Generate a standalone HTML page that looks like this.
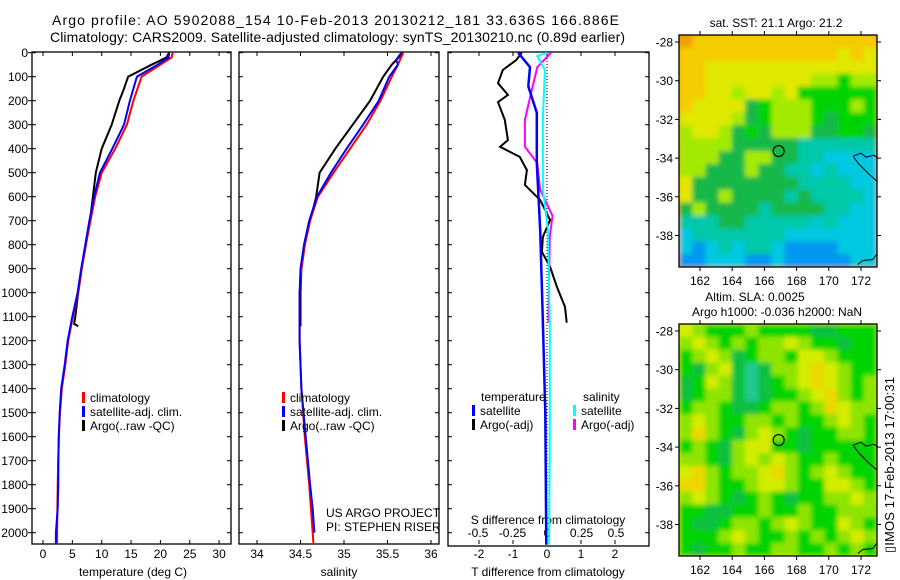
<!DOCTYPE html>
<html><head><meta charset="utf-8"><style>
body{margin:0;background:#fff;}
svg{display:block;font-family:"Liberation Sans",sans-serif;}
</style></head><body>
<svg id="fig" width="900" height="580" viewBox="0 0 900 580" xmlns="http://www.w3.org/2000/svg">
<defs>
<clipPath id="c1"><rect x="32" y="52" width="199" height="492"/></clipPath>
<clipPath id="c2"><rect x="239" y="52" width="200" height="492"/></clipPath>
<clipPath id="c3"><rect x="448" y="52" width="201" height="494"/></clipPath>
<clipPath id="cm1"><rect x="679" y="35" width="198" height="232"/></clipPath>
<clipPath id="cm2"><rect x="679" y="324" width="198" height="232"/></clipPath>
<filter id="bl" filterUnits="userSpaceOnUse" x="660" y="0" width="240" height="580"><feGaussianBlur stdDeviation="2.5"/></filter>
</defs>
<text x="52" y="25" font-size="14" textLength="567">Argo profile: AO 5902088_154 10-Feb-2013 20130212_181 33.636S 166.886E</text>
<text x="50" y="42" font-size="14" textLength="575">Climatology: CARS2009. Satellite-adjusted climatology: synTS_20130210.nc (0.89d earlier)</text>
<g id="axes"></g>
<g id="maps"></g>
<text transform="translate(894,553) rotate(-90)" font-size="13" textLength="176">▯IMOS 17-Feb-2013 17:00:31</text>
</svg>
<script>
// ---- Data ----
const tempDepthRed=[0,20,50,100,200,300,400,500,600,700,800,900,1000,1100,1200,1300,1400,1500,1600,1700,1800,1900,2000,2050];
const tempRed=[22.1,21.9,20,16.8,15.4,14.3,12.3,10,8.9,8.1,7.3,6.6,6,5.1,4.3,3.8,3.2,2.9,2.7,2.6,2.5,2.45,2.4,2.4];
const tempDepthBlue=[0,20,50,100,200,300,400,500,600,700,800,900,1000,1100,1200,1300,1400,1500,1600,1700,1800,1900,2000,2050];
const tempBlue=[21.5,21.4,19.5,16,14.8,13.8,11.8,9.7,8.7,7.9,7.2,6.5,5.9,5.0,4.2,3.7,3.1,2.85,2.7,2.6,2.6,2.5,2.2,2.2];
const tempDepthArgo=[0,20,50,100,150,200,300,400,500,600,700,800,900,1000,1100,1130,1140];
const tempArgo=[21.5,21,18.5,14.5,13.8,13,11.7,10,9,8.5,8,7.3,6.6,6,5.5,5.3,6];
const salDepthRed=[0,50,100,200,300,400,500,600,700,800,900,1000,1200,1400,1600,1800,2000,2050];
const salRed=[35.68,35.62,35.55,35.42,35.26,35.07,34.88,34.7,34.61,34.55,34.51,34.49,34.49,34.51,34.55,34.6,34.64,34.65];
const salDepthBlue=[0,30,50,100,200,300,400,500,600,700,800,900,1000,1200,1400,1600,1800,1900,2000];
const salBlue=[35.66,35.6,35.62,35.52,35.4,35.22,35.03,34.85,34.69,34.6,34.54,34.5,34.49,34.49,34.51,34.56,34.61,34.64,34.66];
const salDepthArgo=[0,50,100,200,300,400,500,600,700,800,900,1000,1100,1140];
const salArgo=[35.68,35.55,35.45,35.3,35.1,34.9,34.72,34.68,34.61,34.55,34.51,34.5,34.5,34.5];
const dTDepthArgo=[0,30,72,127,176,206,280,364,392,434,489,551,614,697,767,830,892,976,1059,1125];
const dTArgo=[-0.74,-0.9,-1.3,-1.44,-1.15,-1.44,-1.24,-1.15,-1.38,-0.8,-0.59,-0.65,-0.2,0.09,-0.12,-0.15,0.09,0.29,0.53,0.58];
const dTDepthSat=[0,60,140,250,460,740,1125,1500,2050];
const dTSat=[-0.85,-0.5,-0.55,-0.3,-0.3,-0.2,-0.12,-0.05,-0.02];
const dSDepthArgo=[0,60,180,280,392,460,570,680,767,1125];
const dSArgo=[0.03,-0.07,-0.12,-0.16,-0.16,-0.07,-0.05,0.04,0.02,0.01];
const dSDepthSat=[0,14,72,270,570,740,1125,1600,2050];
const dSSat=[0,-0.07,-0.015,-0.03,-0.03,0.007,0.02,0.02,0.015];
const depthTicks=[0,100,200,300,400,500,600,700,800,900,1000,1100,1200,1300,1400,1500,1600,1700,1800,1900,2000];
const tempTicks=[0,5,10,15,20,25,30];
const salTicks=[34,34.5,35,35.5,36];
const salTickLabels=["34","34.5","35","35.5","36"];
const dTTicks=[-2,-1,0,1,2];
const dSTicks=[-0.5,-0.25,0,0.25,0.5];
const dSTickLabels=["-0.5","-0.25","0","0.25","0.5"];
const lonTicks=[162,164,166,168,170,172];
const latTicks=[-28,-30,-32,-34,-36,-38];
const sstGrid=[
"OYYYYYYYYYYYYYY","YYYYYYYYYYYYyYy","YYyyyyyyyyyyyyy","YYyyyyyyyyllgll","YYyylyylygggggg",
"YyyyyGglllggglg","yyyylGglllgGggg","lyylGgGlllGGggG","llllGGGGGtttttt","lllGGllGGttcccc",
"llGGGlGGttctccc","yGGGGGGGGttttcc","yGGlGGGGtGttttc","GlGGGGtGGGGttcc","tttGGttttthtccc",
"ctttttttccccccc","cbctcttcbbbbccc","bbcccbbcbbbbbcc"];
const slaGrid=[
"ylggglggggGGggg","lylglgllylggGgg","glylGgllgyylggg","gGlyGtGllyoylgg","GgylGtGglyoylgl",
"GgllGtGgglyolgl","gllgGGgllgloyll","lylggllglgglylg","lolgGlylgGggllg","glgGlyyggGggggg",
"llgGlylylgglggg","yolgllyolglylgg","oolgglyylggyylg","lylgGglgGggllyl","ggGGgglgglggllll",
"gGGgllglylggylg","ggglylgglglglyl","gGgglggllgglglg"];
const argoLon=166.886, argoLat=-33.636;

const NS="http://www.w3.org/2000/svg";
const axes=document.getElementById('axes');
const mapsG=document.getElementById('maps');
function mk(tag,attrs,parent){const e=document.createElementNS(NS,tag);for(const k in attrs)e.setAttribute(k,attrs[k]);(parent||axes).appendChild(e);return e;}
const yD=d=>52.7+d*0.24;
const xT=t=>43+t*5.87;
const xS=s=>257+(s-34)*87;
const xdT=t=>547+t*34;
const xdS=s=>547+s*138;

function frame(x,y,w,h,name){const r=mk('rect',{x:x,y:y,width:w,height:h,fill:'none',stroke:'#000','stroke-width':1.3});

}
frame(32,52,199,492,'temperature-panel');
frame(239,52,200,492,'salinity-panel');
frame(448,52,201,494,'difference-panel');

depthTicks.forEach(d=>{const y=yD(d);
 const t=mk('text',{x:28,y:y+4.5,'font-size':12,'text-anchor':'end'});t.textContent=d;
 
 
 mk('line',{x1:28,x2:32,y1:y,y2:y,stroke:'#000'});
 [[32,231],[239,439],[448,649]].forEach(([a,b])=>{mk('line',{x1:a,x2:a+4,y1:y,y2:y,stroke:'#000'});mk('line',{x1:b-4,x2:b,y1:y,y2:y,stroke:'#000'});});
});
function xticks(vals,labels,fx,name,ly){vals.forEach((v,i)=>{const x=fx(v);
 mk('line',{x1:x,x2:x,y1:544,y2:540,stroke:'#000'});mk('line',{x1:x,x2:x,y1:52,y2:56,stroke:'#000'});
 const t=mk('text',{x:x,y:ly,'font-size':12,'text-anchor':'middle'});t.textContent=labels[i];
 
 });}
xticks(tempTicks,tempTicks.map(String),xT,'temperature-tick-label',558);
xticks(salTicks,salTickLabels,xS,'salinity-tick-label',558);
xticks(dTTicks,dTTicks.map(String),xdT,'t-diff-tick-label',558);
dSTicks.forEach((v,i)=>{const t=mk('text',{x:xdS(v),y:537,'font-size':12,'text-anchor':'middle'});t.textContent=dSTickLabels[i];
 
 });
function lbl(x,y,s,name,anchor,fs){const t=mk('text',{x:x,y:y,'font-size':fs||12,'text-anchor':anchor||'middle'});t.textContent=s;
 
 return t;}
lbl(133,576,'temperature (deg C)','x-axis-title-temperature');
lbl(339,576,'salinity','x-axis-title-salinity');
lbl(548,576,'T difference from climatology','x-axis-title-t-diff');
lbl(548,524,'S difference from climatology','s-diff-axis-title');
lbl(326,517,'US ARGO PROJECT','project-label','start');
lbl(326,531,'PI: STEPHEN RISER','pi-label','start');
mk('line',{x1:547,x2:547,y1:52,y2:544,stroke:'#000','stroke-dasharray':'1,2'});

function series(depths,vals,fx,color,clip,name,w){const pts=depths.map((d,i)=>fx(vals[i]).toFixed(1)+','+yD(d).toFixed(1)).join(' ');
 const p=mk('polyline',{points:pts,fill:'none',stroke:color,'stroke-width':w||2,'clip-path':'url(#'+clip+')'});
 
 }
series(tempDepthArgo,tempArgo,xT,'#000','c1','temp-argo-line');
series(tempDepthRed,tempRed,xT,'#f00','c1','temp-climatology-line');
series(tempDepthBlue,tempBlue,xT,'#00f','c1','temp-satellite-line');
series(salDepthArgo,salArgo,xS,'#000','c2','sal-argo-line');
series(salDepthRed,salRed,xS,'#f00','c2','sal-climatology-line');
series(salDepthBlue,salBlue,xS,'#00f','c2','sal-satellite-line');
series(dTDepthArgo,dTArgo,xdT,'#000','c3','t-diff-argo-line');
series(dSDepthArgo,dSArgo,xdS,'#f0f','c3','s-diff-argo-line');
series(dTDepthSat,dTSat,xdT,'#00f','c3','t-diff-satellite-line',2.5);
series(dSDepthSat,dSSat,xdS,'#0ff','c3','s-diff-satellite-line');

function legend(x,y,color,text,name){mk('rect',{x:x,y:y-10,width:3,height:11,fill:color});
 lbl(x+8,y,text,name,'start');}
legend(82,402,'#f00','climatology','legend-climatology');
legend(82,416,'#00f','satellite-adj. clim.','legend-satellite-adj');
legend(82,430,'#000','Argo(..raw -QC)','legend-argo');
legend(282,402,'#f00','climatology','legend-climatology-sal');
legend(282,416,'#00f','satellite-adj. clim.','legend-satellite-adj-sal');
legend(282,430,'#000','Argo(..raw -QC)','legend-argo-sal');
lbl(481,401,'temperature','legend-temperature-header','start');
legend(472,415,'#00f','satellite','legend-t-satellite');
legend(472,429,'#000','Argo(-adj)','legend-t-argo');
lbl(583,401,'salinity','legend-salinity-header','start');
legend(573,415,'#0ff','satellite','legend-s-satellite');
legend(573,429,'#f0f','Argo(-adj)','legend-s-argo');

const pal={O:'#f0a000',Y:'#f4cc00',y:'#e0e800',l:'#a4ea00',g:'#00d400',G:'#14b84a',t:'#00c8a8',c:'#00c8e0',b:'#0098f0',h:'#00c8c8',o:'#eedc00'};
const palSla={O:'#f0a000',Y:'#f4cc00',y:'#d4ec00',l:'#8ee400',g:'#00d400',G:'#10c040',t:'#20c890',c:'#00c8e0',b:'#0098f0',h:'#00c8c8',o:'#ecd800'};
function drawMap(grid,top,clip,name,lat28,P){
 const g=mk('g',{'clip-path':'url(#'+clip+')'},mapsG);
 
 
 const inner=mk('g',{filter:'url(#bl)'},g);
 mk('rect',{x:670,y:top-10,width:220,height:252,fill:P[grid[0][0]]},inner);
 const cw=198/15,ch=232/18;
 grid.forEach((row,r)=>{for(let c=0;c<row.length;c++){mk('rect',{x:679+c*cw,y:top+r*ch,width:cw+0.6,height:ch+0.6,fill:P[row[c]]||'#00d400'},inner);}});
 const lx=v=>700+(v-162)*16.1, ly=v=>lat28+(-28-v)*19.35;
 mk('path',{d:`M${lx(171.5)} ${ly(-33.9)} l8 -3 l5 4 l8 -2 l4 3 M${lx(171.5)} ${ly(-33.9)} l6 8 l10 10 l8 7 M${lx(171.8)} ${ly(-39.5)} l5 -4 l10 -1 l6 -8`,fill:'none',stroke:'#000','stroke-width':1},g);
 const c=mk('circle',{cx:lx(argoLon),cy:ly(argoLat),r:5.5,fill:'none',stroke:'#000','stroke-width':1.2},g);
 
 
 mk('rect',{x:679,y:top,width:198,height:232,fill:'none',stroke:'#000','stroke-width':1.3},mapsG);
 lonTicks.forEach(v=>{const x=lx(v);mk('line',{x1:x,x2:x,y1:top,y2:top-4,stroke:'#000'},mapsG);mk('line',{x1:x,x2:x,y1:top+232,y2:top+236,stroke:'#000'},mapsG);
  const t=mk('text',{x:x,y:top+250,'font-size':12,'text-anchor':'middle'},mapsG);t.textContent=v;
  
  });
 latTicks.forEach(v=>{const y=ly(v);mk('line',{x1:675,x2:679,y1:y,y2:y,stroke:'#000'},mapsG);mk('line',{x1:877,x2:881,y1:y,y2:y,stroke:'#000'},mapsG);
  const t=mk('text',{x:673,y:y+4.5,'font-size':12,'text-anchor':'end'},mapsG);t.textContent=v;
  
  });
}
drawMap(sstGrid,35,'cm1','sst-map',42,pal);
drawMap(slaGrid,324,'cm2','sla-map',331,palSla);
function mtext(x,y,s,name,anchor){const t=mk('text',{x:x,y:y,'font-size':12,'text-anchor':anchor||'middle'},mapsG);t.textContent=s;
 
 }
mtext(776,27,'sat. SST: 21.1 Argo: 21.2','sst-map-title');
mtext(755,301,'Altim. SLA: 0.0025','sla-map-title');
mtext(777,316,'Argo h1000: -0.036 h2000: NaN','argo-height-label');
</script>
</body></html>
